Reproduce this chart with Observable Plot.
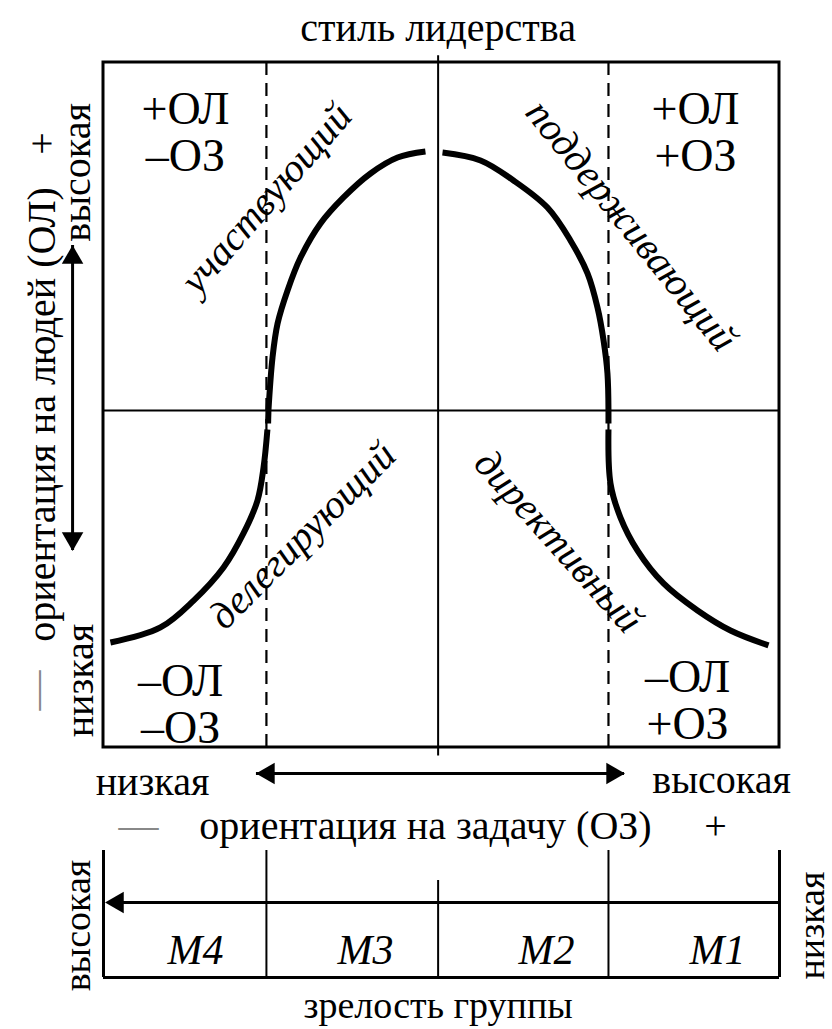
<!DOCTYPE html>
<html><head><meta charset="utf-8">
<script src="https://cdn.jsdelivr.net/npm/d3@7"></script>
<script src="https://cdn.jsdelivr.net/npm/@observablehq/plot@0.6"></script>
<style>body{margin:0;background:#fff} svg{display:block;background:#fff;overflow:visible} svg text{font-family:"Liberation Serif","Times New Roman",serif}</style>
</head><body><div id="chart"></div>
<script>
// ---- data (units: task orientation 0..4, people orientation 0..4) ----
const dividers = [0.964, 2.988];           // dashed style boundaries
const centerX = 1.98;
const midY = 1.968;
const curveUpperLeft  = [[0.976,1.968],[1.000,2.277],[1.030,2.476],[1.089,2.669],[1.166,2.861],[1.284,3.060],[1.420,3.212],[1.580,3.352],[1.740,3.445],[1.905,3.480]];
const curveUpperRight = [[2.006,3.474],[2.231,3.428],[2.426,3.311],[2.627,3.153],[2.763,2.961],[2.864,2.768],[2.923,2.569],[2.959,2.377],[2.982,2.184],[2.988,1.968]];
const curveStubLeft   = [[0.976,1.968],[0.974,1.892]];
const curveStubRight  = [[2.988,1.968],[2.988,1.892]];
const curveLowerLeft  = [[0.970,1.857],[0.947,1.635],[0.911,1.442],[0.828,1.250],[0.710,1.051],[0.533,0.858],[0.337,0.701],[0.041,0.613]];
const curveLowerRight = [[2.988,1.857],[3.000,1.542],[3.059,1.343],[3.160,1.150],[3.314,0.958],[3.515,0.800],[3.710,0.683],[3.935,0.596]];
const quadrantLabels = [
  {x:0.485, y:3.594, text:"+ОЛ\n–ОЗ"},
  {x:3.503, y:3.594, text:"+ОЛ\n+ОЗ"},
  {x:0.456, y:0.251, text:"–ОЛ\n–ОЗ"},
  {x:3.456, y:0.274, text:"–ОЛ\n+ОЗ"}
];
const styleLabels = [
  {x:0.964, y:3.206, text:"участвующий",   angle:-49},
  {x:3.124, y:3.048, text:"поддерживающий", angle:51},
  {x:1.178, y:1.238, text:"делегирующий",  angle:-45},
  {x:2.692, y:1.203, text:"директивный",   angle:48}
];
const title = [{x:1.98, y:4.2, text:"стиль лидерства"}];
const taskArrow = [0.905, 3.083];  const taskArrowY = -0.152;
const taskTexts = [
  {x:0.29, y:-0.204, text:"низкая"},
  {x:3.657, y:-0.193, text:"высокая"},
  {x:1.905, y:-0.461, text:"ориентация на задачу (ОЗ)"},
  {x:3.621, y:-0.461, text:"+"}
];
const taskMinus = [{x:0.207, y:-0.455, text:"—"}];
const peopleArrow = [1.150, 2.931]; const peopleArrowX = -0.183;
const peopleTexts = [
  {x:-0.361, y:1.945, text:"ориентация на людей (ОЛ)"},
  {x:-0.361, y:3.527, text:"+"},
  {x:-0.154, y:3.358, text:"высокая"},
  {x:-0.136, y:0.391, text:"низкая"}
];
const peopleMinus = [{x:-0.40, y:0.333, text:"—"}];
// maturity panel
const maturityBounds = [0, 0.964, 2.988, 4];
const maturityCenter = 1.98; const maturityCenterTop = 0.764;
const maturityArrowY = 0.591;
const maturityLabels = [{x:0.544,text:"M4"},{x:1.550,text:"M3"},{x:2.621,text:"M2"},{x:3.633,text:"M1"}];
const maturitySide = [{x:-0.154, text:"высокая"},{x:4.19, text:"низкая"}];
const maturityTitle = [{x:1.98, y:-0.221, text:"зрелость группы"}];

const F = "Liberation Serif";
const P = d => ({x: d[0], y: d[1]});
const lineOpts = {x:"x", y:"y", stroke:"black", strokeWidth:6, curve:"catmull-rom", strokeLinecap:"butt"};

const main = Plot.plot({
  width: 832, height: 848, margin: 0,
  style: {fontFamily: F, overflow: "visible"},
  x: {type:"linear", domain:[0,4], range:[103,779], axis:null},
  y: {type:"linear", domain:[0,4], range:[747,62], axis:null},
  marks: [
    Plot.ruleY([midY], {x1:0, x2:4, stroke:"black", strokeWidth:2}),
    Plot.ruleX([centerX], {y1:-0.05, y2:4.04, stroke:"black", strokeWidth:2}),
    Plot.ruleX(dividers, {y1:0, y2:4, stroke:"black", strokeWidth:2.2, strokeDasharray:"13,8"}),
    Plot.rect([{x1:0,x2:4,y1:0,y2:4}], {x1:"x1",x2:"x2",y1:"y1",y2:"y2", fill:"none", stroke:"black", strokeWidth:3}),
    Plot.line(curveUpperLeft.map(P), lineOpts),
    Plot.line(curveUpperRight.map(P), lineOpts),
    Plot.line(curveStubLeft.map(P), {...lineOpts, curve:"linear"}),
    Plot.line(curveStubRight.map(P), {...lineOpts, curve:"linear"}),
    Plot.line(curveLowerLeft.map(P), lineOpts),
    Plot.line(curveLowerRight.map(P), lineOpts),
    Plot.text(quadrantLabels, {x:"x", y:"y", text:"text", fontFamily:F, fontSize:46, lineHeight:1.02, fill:"black"}),
    Plot.text(styleLabels, {x:"x", y:"y", text:"text", rotate:"angle", fontFamily:F, fontStyle:"italic", fontSize:40, fill:"black"}),
    Plot.text(title, {x:"x", y:"y", text:"text", fontFamily:F, fontSize:40, fill:"black"}),
    // task orientation arrow
    Plot.ruleY([taskArrowY], {x1:taskArrow[0], x2:taskArrow[1], stroke:"black", strokeWidth:3}),
    Plot.dot([taskArrow[0]], {x:d=>d, y:()=>taskArrowY, symbol:"triangle", r:8, rotate:-90, dx:12, fill:"black", stroke:"none"}),
    Plot.dot([taskArrow[1]], {x:d=>d, y:()=>taskArrowY, symbol:"triangle", r:8, rotate:90, dx:-12, fill:"black", stroke:"none"}),
    Plot.text(taskTexts, {x:"x", y:"y", text:"text", fontFamily:F, fontSize:40, fill:"black"}),
    Plot.text(taskMinus, {x:"x", y:"y", text:"text", fontFamily:F, fontSize:40, fill:"#888"}),
    // people orientation arrow
    Plot.ruleX([peopleArrowX], {y1:peopleArrow[0], y2:peopleArrow[1], stroke:"black", strokeWidth:3}),
    Plot.dot([peopleArrow[1]], {x:()=>peopleArrowX, y:d=>d, symbol:"triangle", r:8, rotate:0, dy:12, fill:"black", stroke:"none"}),
    Plot.dot([peopleArrow[0]], {x:()=>peopleArrowX, y:d=>d, symbol:"triangle", r:8, rotate:180, dy:-12, fill:"black", stroke:"none"}),
    Plot.text(peopleTexts, {x:"x", y:"y", text:"text", rotate:-90, fontFamily:F, fontSize:40, fill:"black"}),
    Plot.text(peopleMinus, {x:"x", y:"y", text:"text", rotate:-90, fontFamily:F, fontSize:40, fill:"#888"})
  ]
});

const maturity = Plot.plot({
  width: 832, height: 181, margin: 0,
  style: {fontFamily: F, overflow: "visible"},
  x: {type:"linear", domain:[0,4], range:[103,779], axis:null},
  y: {type:"linear", domain:[0,1], range:[129,2], axis:null},
  marks: [
    Plot.ruleX(maturityBounds, {y1:0, y2:1, stroke:"black", strokeWidth:d => (d===0||d===4)?3:2}),
    Plot.ruleX([maturityCenter], {y1:0, y2:maturityCenterTop, stroke:"black", strokeWidth:2}),
    Plot.ruleY([0], {x1:0, x2:4, stroke:"black", strokeWidth:3}),
    Plot.ruleY([maturityArrowY], {x1:0.06, x2:4, stroke:"black", strokeWidth:3}),
    Plot.dot([0], {x:d=>d, y:()=>maturityArrowY, symbol:"triangle", r:8, rotate:-90, dx:14, fill:"black", stroke:"none"}),
    Plot.text(maturityLabels, {x:"x", y:()=>0.213, text:"text", fontFamily:F, fontStyle:"italic", fontSize:42, fill:"black"}),
    Plot.text(maturitySide, {x:"x", y:()=>0.409, text:"text", rotate:-90, fontFamily:F, fontSize:38, fill:"black"}),
    Plot.text(maturityTitle, {x:"x", y:"y", text:"text", fontFamily:F, fontSize:38, fill:"black"})
  ]
});

const root = document.getElementById("chart");
root.appendChild(main);
root.appendChild(maturity);
</script>
</body></html>
